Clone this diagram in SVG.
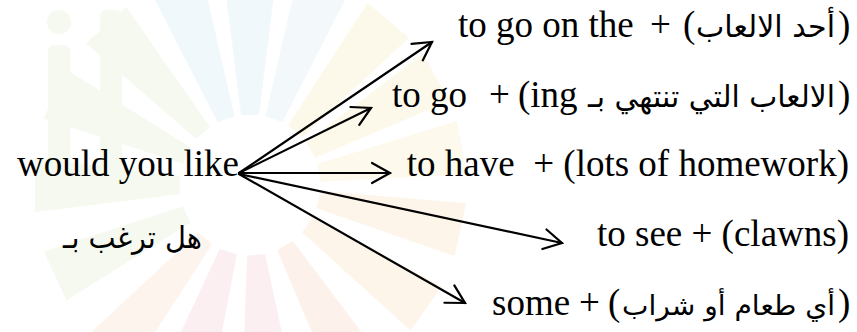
<svg xmlns="http://www.w3.org/2000/svg" width="857" height="332" viewBox="0 0 857 332">
<style>
.en{font-family:"Liberation Serif","Times New Roman",serif;font-size:37px;fill:#000;white-space:pre}
.ar{font-family:"DejaVu Sans","Liberation Sans",sans-serif;font-size:30px;fill:#000}
.cn{stroke:#000;stroke-width:2.2;fill:none;stroke-linecap:round}
</style>
<defs>
<marker id="ah" markerUnits="userSpaceOnUse" viewBox="-20 -12 22 24" markerWidth="22" markerHeight="24" refX="0" refY="0" orient="auto" overflow="visible">
<path d="M -18 -10 L 0 0 L -18 10" fill="none" stroke="#000" stroke-width="2.2" stroke-linejoin="miter" stroke-linecap="round"/>
</marker>
<path id="petal" d="M 70 -9 L 215 -27 L 215 27 L 70 9 Z"/>
</defs>
<rect width="857" height="332" fill="#fff"/>
<g id="watermark" opacity="0.35">
<g transform="translate(250,185)">
<use href="#petal" transform="rotate(-110)" fill="#d9ecf8"/>
<use href="#petal" transform="rotate(-90)" fill="#d9ecf8"/>
<use href="#petal" transform="rotate(-70)" fill="#dff0f5"/>
<use href="#petal" transform="rotate(-50)" fill="#fbf0c4"/>
<use href="#petal" transform="rotate(-30)" fill="#fbf0c4"/>
<use href="#petal" transform="rotate(-10)" fill="#fcefc9"/>
<use href="#petal" transform="rotate(12)" fill="#fde3c4"/>
<use href="#petal" transform="rotate(35)" fill="#fde3c4"/>
<use href="#petal" transform="rotate(60)" fill="#fcdcc8"/>
<use href="#petal" transform="rotate(85)" fill="#f9d3dc"/>
<use href="#petal" transform="rotate(108)" fill="#f9d3dc"/>
<use href="#petal" transform="rotate(130)" fill="#fbe0cf"/>
<use href="#petal" transform="rotate(155)" fill="#e3f0d3"/>
<use href="#petal" transform="rotate(180)" fill="#e3f0d3"/>
<use href="#petal" transform="rotate(205)" fill="#e3f0d3"/>
<use href="#petal" transform="rotate(228)" fill="#e3f0d3"/>
</g>
<rect x="48" y="45" width="22" height="150" rx="6" fill="#e3f0d3"/>
<circle cx="59" cy="22" r="12" fill="#e3f0d3"/>
<rect x="100" y="10" width="22" height="190" rx="6" fill="#e3f0d3"/>
</g>
<g id="connectors">
<line class="cn" x1="239" y1="173" x2="432" y2="42" marker-end="url(#ah)"/>
<line class="cn" x1="239" y1="173" x2="371" y2="108" marker-end="url(#ah)"/>
<line class="cn" x1="239" y1="173" x2="390" y2="173" marker-end="url(#ah)"/>
<line class="cn" x1="239" y1="174" x2="562" y2="243" marker-end="url(#ah)"/>
<line class="cn" x1="239" y1="174" x2="465" y2="303" marker-end="url(#ah)"/>
</g>
<g id="source">
<text class="en" x="17" y="176">would you like</text>
<text class="ar" x="63" y="248" textLength="139" lengthAdjust="spacingAndGlyphs">هل ترغب بـ</text>
</g>
<g id="line1">
<text class="en" x="458" y="37">to go on the</text>
<text class="en" x="650" y="37">+</text>
<text class="en" x="683" y="37">(</text>
<text class="ar" x="696" y="37" textLength="139" lengthAdjust="spacingAndGlyphs">أحد الالعاب</text>
<text class="en" x="838" y="37">)</text>
</g>
<g id="line2">
<text class="en" x="392" y="107">to go</text>
<text class="en" x="489" y="107">+</text>
<text class="en" x="518" y="107">(ing</text>
<text class="ar" x="588" y="107" textLength="247" lengthAdjust="spacingAndGlyphs">الالعاب التي تنتهي بـ</text>
<text class="en" x="838" y="107">)</text>
</g>
<g id="line3">
<text class="en" x="849" y="176" text-anchor="end" xml:space="preserve">to have  + (lots of homework)</text>
</g>
<g id="line4">
<text class="en" x="849" y="246" text-anchor="end">to see + (clawns)</text>
</g>
<g id="line5">
<text class="en" x="492" y="315">some</text>
<text class="en" x="579" y="315">+</text>
<text class="en" x="608" y="315">(</text>
<text class="ar" x="622" y="315" style="font-size:27px" textLength="213" lengthAdjust="spacingAndGlyphs">أي طعام أو شراب</text>
<text class="en" x="838" y="315">)</text>
</g>
</svg>
